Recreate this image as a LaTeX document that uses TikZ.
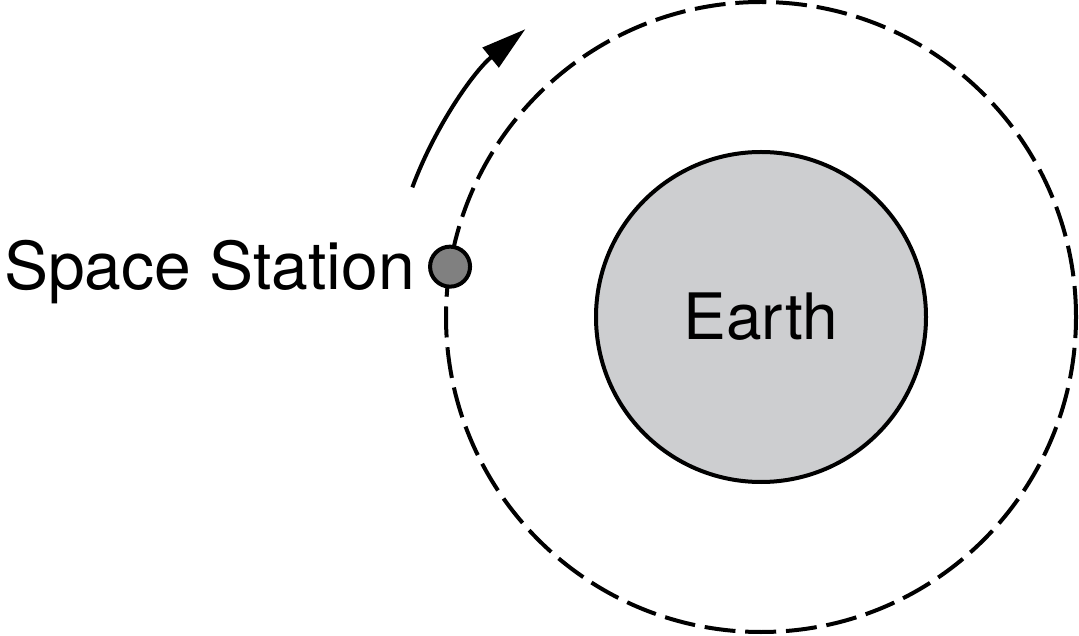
\documentclass[tikz,border=0pt]{standalone}
\usepackage{fontspec}
\setmainfont{TeX Gyre Heros}
\usetikzlibrary{arrows.meta,positioning}

\definecolor{earthgray}{RGB}{205,206,208}
\definecolor{stationgray}{RGB}{128,128,128}

\tikzset{
  planet/.style={circle, draw, line width=4pt, fill=earthgray, minimum size=330pt,
    inner sep=0pt, font=\fontsize{64}{76}\selectfont},
  station/.style={circle, draw, line width=4pt, fill=stationgray, minimum size=40pt, inner sep=0pt},
  orbitline/.style={line width=4pt, dash pattern=on 31pt off 9.8pt},
  motion/.style={line width=4pt, -{Triangle[length=45pt, width=25pt]}}
}

\begin{document}
\begin{tikzpicture}[x=1pt, y=1pt]
\useasboundingbox (0,0) rectangle (1079,635);

\coordinate (centre) at (761,318);

% orbit
\draw [orbitline] (centre) circle (315);

% earth and station
\node [planet] (earth) at (centre) {Earth};
\node [station] (iss) at ([shift={(170.8:315)}]centre) {};
\node [anchor=base east, inner sep=0pt, font=\fontsize{66}{79}\selectfont] (isslabel) at (415,345) {Space Station};

% direction of motion
\draw [motion] ([shift={(159.6:372)}]centre) arc[start angle=159.6, end angle=129.3, radius=372];

\end{tikzpicture}
\end{document}
